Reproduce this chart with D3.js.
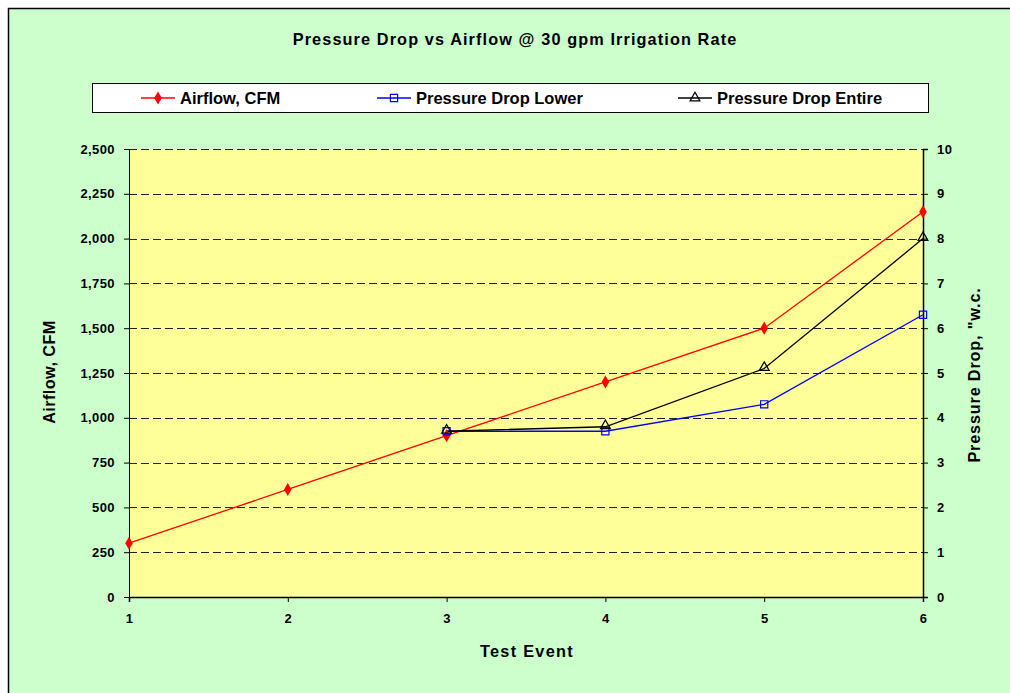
<!DOCTYPE html>
<html><head><meta charset="utf-8">
<script src="https://cdn.jsdelivr.net/npm/d3@7"></script>
<style>body{margin:0;background:#fff}svg{display:block}text{font-family:"Liberation Sans",Arial,sans-serif;font-weight:bold;fill:#000}</style>
</head><body><svg id="c" width="1010" height="693"></svg>
<script>
const events = [1, 2, 3, 4, 5, 6];
const airflow = [300, 600, 900, 1200, 1500, 2150];
const pdLowerEvents = [3, 4, 5, 6];
const pdLower = [3.7, 3.7, 4.3, 6.3];
const pdEntireEvents = [3, 4, 5, 6];
const pdEntire = [3.7, 3.8, 5.1, 8.0];
const leftTicks = [0, 250, 500, 750, 1000, 1250, 1500, 1750, 2000, 2250, 2500];
const rightTicks = [0, 1, 2, 3, 4, 5, 6, 7, 8, 9, 10];

const svg = d3.select("#c");
svg.append("rect").attr("x", 8.5).attr("y", 8.5).attr("width", 1010).attr("height", 700)
  .attr("fill", "#ccffcc").attr("stroke", "#000").attr("stroke-width", 1.5);

const L = 129, R = 923, T = 149, B = 597;
const x = d3.scaleLinear().domain([1, 6]).range([L, R]);
const yL = d3.scaleLinear().domain([0, 2500]).range([B, T]);
const yR = d3.scaleLinear().domain([0, 10]).range([B, T]);

svg.append("rect").attr("x", L).attr("y", T).attr("width", R - L).attr("height", B - T).attr("fill", "#ffff99");

// gridlines
svg.append("g").selectAll("line").data(leftTicks.filter(d => d > 0)).join("line")
  .attr("x1", L).attr("x2", R).attr("y1", d => Math.round(yL(d)) + 0.5).attr("y2", d => Math.round(yL(d)) + 0.5)
  .attr("stroke", "#222").attr("stroke-dasharray", "8,4").attr("stroke-width", 1);

// axes
const fmt = d3.format(",");
const gL = svg.append("g").attr("transform", `translate(${L},0)`)
  .call(d3.axisLeft(yL).tickValues(leftTicks).tickFormat(fmt).tickSize(5).tickPadding(9));
const gR = svg.append("g").attr("transform", `translate(${R},0)`)
  .call(d3.axisRight(yR).tickValues(rightTicks).tickSize(5).tickPadding(9));
const gB = svg.append("g").attr("transform", `translate(0,${B})`)
  .call(d3.axisBottom(x).tickValues(events).tickFormat(d3.format("d")).tickSize(5).tickPadding(12));
[gL, gR, gB].forEach(g => {
  g.select(".domain").attr("stroke", "#000").attr("stroke-width", 1.5);
  g.selectAll(".tick line").attr("stroke", "#000");
  g.selectAll(".tick text").style("font-size", "13px").style("font-weight", "bold").attr("fill", "#000")
    .style("letter-spacing", "0.4px")
    .style("font-family", "'Liberation Sans', Arial, sans-serif");
});
gL.select(".domain").attr("stroke-width", 1);

// lines
const lineA = d3.line().x((d, i) => x(events[i])).y(d => yL(d));
svg.append("path").datum(airflow).attr("d", lineA).attr("fill", "none").attr("stroke", "#ff0000").attr("stroke-width", 1.3);
const lineLo = d3.line().x((d, i) => x(pdLowerEvents[i])).y(d => yR(d));
svg.append("path").datum(pdLower).attr("d", lineLo).attr("fill", "none").attr("stroke", "#0000ff").attr("stroke-width", 1.3);
const lineEn = d3.line().x((d, i) => x(pdEntireEvents[i])).y(d => yR(d));
svg.append("path").datum(pdEntire).attr("d", lineEn).attr("fill", "none").attr("stroke", "#000").attr("stroke-width", 1.3);

const diamond = d3.symbol().type(d3.symbolDiamond).size(50);
const square = d3.symbol().type(d3.symbolSquare).size(52);
const tri = d3.symbol().type(d3.symbolTriangle).size(42);

svg.append("g").selectAll("path").data(airflow).join("path")
  .attr("transform", (d, i) => `translate(${x(events[i])},${yL(d)})`).attr("d", diamond).attr("fill", "#ff0000");
svg.append("g").selectAll("path").data(pdLower).join("path")
  .attr("transform", (d, i) => `translate(${x(pdLowerEvents[i])},${yR(d)})`).attr("d", square)
  .attr("fill", "none").attr("stroke", "#0000ff").attr("stroke-width", 1.2);
svg.append("g").selectAll("path").data(pdEntire).join("path")
  .attr("transform", (d, i) => `translate(${x(pdEntireEvents[i])},${yR(d) - 1})`).attr("d", tri)
  .attr("fill", "none").attr("stroke", "#000").attr("stroke-width", 1.2);

// title
svg.append("text").attr("x", 515).attr("y", 45).attr("text-anchor", "middle").style("font-size", "16.3px")
  .style("letter-spacing", "1.1px").text("Pressure Drop vs Airflow @ 30 gpm Irrigation Rate");

// axis titles
svg.append("text").attr("x", 527).attr("y", 657).attr("text-anchor", "middle").style("font-size", "16.3px")
  .style("letter-spacing", "1.3px").text("Test Event");
svg.append("text").attr("transform", `translate(55,${(T + B) / 2 - 1}) rotate(-90)`).attr("text-anchor", "middle").style("font-size", "16.3px")
  .style("letter-spacing", "0.4px").text("Airflow, CFM");
svg.append("text").attr("transform", `translate(980,${(T + B) / 2 + 2}) rotate(-90)`).attr("text-anchor", "middle").style("font-size", "16.3px")
  .style("letter-spacing", "0.8px").text("Pressure Drop, \"w.c.");

// legend
const lg = svg.append("g");
lg.append("rect").attr("x", 92.5).attr("y", 83.5).attr("width", 836).attr("height", 29).attr("fill", "#fff").attr("stroke", "#000").attr("stroke-width", 1);
const legendItems = [
  {name: "Airflow, CFM", color: "#ff0000", sym: diamond, fill: "#ff0000", x0: 141},
  {name: "Pressure Drop Lower", color: "#0000ff", sym: square, fill: "none", x0: 377},
  {name: "Pressure Drop Entire", color: "#000", sym: tri, fill: "none", x0: 678}
];
legendItems.forEach(it => {
  lg.append("line").attr("x1", it.x0).attr("x2", it.x0 + 34).attr("y1", 98).attr("y2", 98).attr("stroke", it.color).attr("stroke-width", 1.3);
  lg.append("path").attr("transform", `translate(${it.x0 + 17},${98})`).attr("d", it.sym)
    .attr("fill", it.fill).attr("stroke", it.fill === "none" ? it.color : "none").attr("stroke-width", 1.2);
  lg.append("text").attr("x", it.x0 + 39).attr("y", 104).style("font-size", "16.5px").text(it.name);
});
</script></body></html>
